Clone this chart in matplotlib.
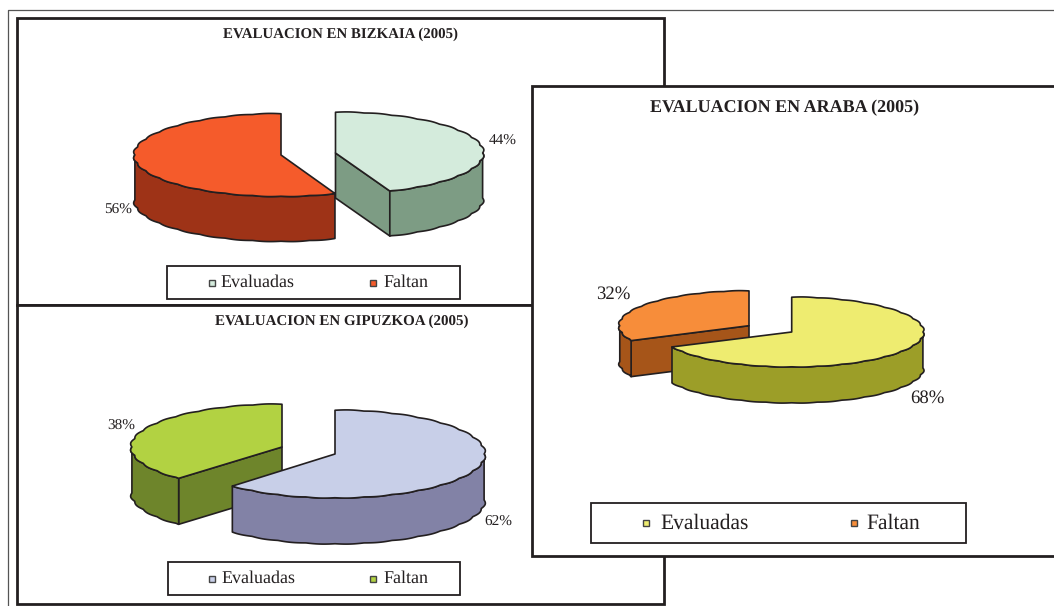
import numpy as np
import matplotlib
matplotlib.use("Agg")
import matplotlib.pyplot as plt
from matplotlib.patches import Polygon, Rectangle

legend_labels = ["Evaluadas", "Faltan"]
bizkaia_values = [44, 56]
gipuzkoa_values = [62, 38]
araba_values = [68, 32]

EDGE = "#231f20"
plt.rcParams['font.family'] = ['Liberation Serif', 'DejaVu Serif']
plt.rcParams['text.hinting'] = 'none'

fig = plt.figure(figsize=(10.54, 6.06), dpi=100)
ax = fig.add_axes([0, 0, 1, 1])
ax.set_xlim(0, 1054)
ax.set_ylim(606, 0)
ax.axis("off")


def edge_point(cx, cy, rx, ry, deg):
    # angle runs clockwise from 12 o'clock, the rim has small scallops like the original
    t = np.radians(deg)
    bump = 1 + 0.012 * (np.abs(np.sin(t * 16)) - 0.5)
    return cx + rx * np.sin(t) * bump, cy - ry * np.cos(t) * bump


def draw_slice(cx, cy, rx, ry, depth, a0, a1, top, side):
    ang = np.linspace(a0, a1, 400)
    xs, ys = edge_point(cx, cy, rx, ry, ang)
    # cut faces
    for a, show in ((a0, a0 > 180), (a1, a1 < 180)):
        if show:
            x, y = edge_point(cx, cy, rx, ry, a)
            ax.add_patch(Polygon([(cx, cy), (x, y), (x, y + depth), (cx, cy + depth)],
                                 closed=True, fc=side, ec=EDGE, lw=1.2, joinstyle="round"))
    # outer band, only the front half shows
    lo, hi = max(a0, 90), min(a1, 270)
    if hi > lo:
        band = np.linspace(lo, hi, 300)
        bx, by = edge_point(cx, cy, rx, ry, band)
        pts = list(zip(bx, by)) + list(zip(bx[::-1], by[::-1] + depth))
        ax.add_patch(Polygon(pts, closed=True, fc=side, ec=EDGE, lw=1.2, joinstyle="round"))
    # top
    pts = [(cx, cy)] + list(zip(xs, ys))
    ax.add_patch(Polygon(pts, closed=True, fc=top, ec=EDGE, lw=1.2, joinstyle="round"))


def draw_pie(values, centers, rx, ry, depth, tops, sides):
    first = values[0] / sum(values) * 360
    order = [1, 0] if first > 180 else [0, 1]
    spans = [(0, first), (first, 360)]
    for i in order:
        draw_slice(centers[i][0], centers[i][1], rx[i], ry[i], depth, spans[i][0], spans[i][1], tops[i], sides[i])


def draw_legend(x0, y0, x1, y1, colors, xs, fs, ms, gaps):
    ax.add_patch(Rectangle((x0, y0), x1 - x0, y1 - y0, fc="white", ec=EDGE, lw=1.3))
    ym = (y0 + y1) / 2
    for lab, col, x, g in zip(legend_labels, colors, xs, gaps):
        ax.add_patch(Rectangle((x - ms / 2, ym - ms / 2), ms, ms, fc=col, ec="#444444", lw=1))
        ax.text(x + g, ym, lab, fontsize=fs, color=EDGE, va="center", ha="left")


# frames
ax.plot([8, 8, 1054], [606, 10, 10], color="#555555", lw=0.9)
ax.add_patch(Rectangle((16.5, 18), 647.5, 287, fc="white", ec=EDGE, lw=2))
ax.add_patch(Rectangle((16.5, 305), 647.5, 299, fc="white", ec=EDGE, lw=2))

# Bizkaia
ax.text(340.5, 34.5, "EVALUACION EN BIZKAIA (2005)", fontsize=10.75, fontweight="bold", color=EDGE, ha="center", va="center")
draw_pie(bizkaia_values, [(335.5, 153), (281, 155)], [148, 147], [41, 41.5], 45,
         ["#d4ebdc", "#f55b2b"], ["#7d9c84", "#9e3317"])
ax.text(503, 141, "%d%%" % bizkaia_values[0], fontsize=11, color=EDGE, ha="center", va="center")
ax.text(118, 210, "%d%%" % bizkaia_values[1], fontsize=11, color=EDGE, ha="center", va="center")
draw_legend(167, 266, 460, 299, ["#d4ebdc", "#f55b2b"], [212, 373], 13, 6, [8.5, 10])

# Gipuzkoa
ax.text(342, 321.5, "EVALUACION EN GIPUZKOA (2005)", fontsize=10.85, fontweight="bold", color=EDGE, ha="center", va="center")
draw_pie(gipuzkoa_values, [(335, 454), (282, 447)], [150, 151], [44, 43], 46,
         ["#c8cfe8", "#b2d242"], ["#8282a6", "#6e852b"])
ax.text(498, 522, "%d%%" % gipuzkoa_values[0], fontsize=11, color=EDGE, ha="center", va="center")
ax.text(121, 426, "%d%%" % gipuzkoa_values[1], fontsize=11, color=EDGE, ha="center", va="center")
draw_legend(167.5, 562, 460, 595, ["#c8cfe8", "#b2d242"], [212, 373], 13, 6, [9.5, 10])

# Araba sits on top of the other two
ax.add_patch(Rectangle((532, 86), 540, 470, fc="white", ec=EDGE, lw=2, zorder=1))
n_before = len(ax.patches)
n_text = len(ax.texts)
ax.text(784.5, 108, "EVALUACION EN ARABA (2005)", fontsize=12.95, fontweight="bold", color=EDGE, ha="center", va="center")
draw_pie(araba_values, [(791.7, 332), (749, 325.7)], [132, 130], [35, 35], 36,
         ["#eeec70", "#f78d3a"], ["#9c9e28", "#a65519"])
ax.text(927, 398, "%d%%" % araba_values[0], fontsize=13.5, color=EDGE, ha="center", va="center")
ax.text(613, 294, "%d%%" % araba_values[1], fontsize=13.5, color=EDGE, ha="center", va="center")
draw_legend(591, 503, 966, 543, ["#eeec70", "#f78d3a"], [646, 854], 15.5, 6.5, [14, 12])
for p in ax.patches[n_before:]:
    p.set_zorder(2)
for t in ax.texts[n_text:]:
    t.set_zorder(3)

fig.savefig("out.png", dpi=100)
